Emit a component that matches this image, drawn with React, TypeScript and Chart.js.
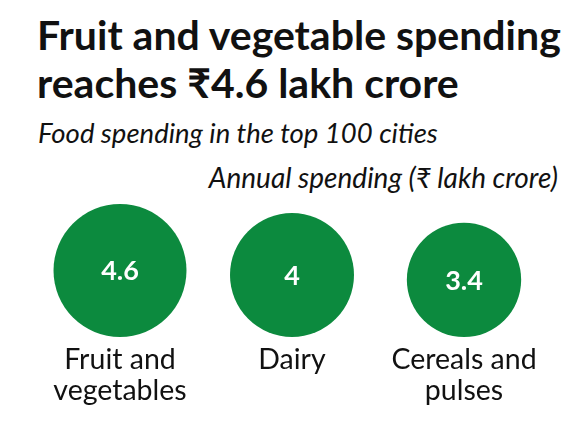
import React, { useEffect, useRef } from "react";
import { Chart, registerables } from "chart.js";

Chart.register(...registerables);

// Annual food spending in the top 100 cities, ₹ lakh crore
const categories = ["Fruit and vegetables", "Dairy", "Cereals and pulses"];
const categoryLines = [["Fruit and", "vegetables"], ["Dairy"], ["Cereals and", "pulses"]];
const values = [4.6, 4, 3.4];
const valueLabels = ["4.6", "4", "3.4"];

const GREEN = "#0c8a3e";
const INK = "#111111";
const FONT = 'Lato, "Noto Sans", "DejaVu Sans", sans-serif';

// Bubble area is proportional to spending; radius in px per sqrt(unit)
const RADIUS_PER_ROOT = 31;
const PLOT_TOP = 190;
const AXIS_HEIGHT = 88;
const CANVAS_W = 576;
const CANVAS_H = 425;
const PLOT_HEIGHT = CANVAS_H - AXIS_HEIGHT - PLOT_TOP;

const radiusOf = (v: number) => RADIUS_PER_ROOT * Math.sqrt(v);

// Writes each bubble's value in its centre
const valueLabelPlugin = {
  id: "valueLabels",
  afterDatasetsDraw(chart: any) {
    const meta = chart.getDatasetMeta(0);
    const ctx = chart.ctx;
    ctx.save();
    ctx.fillStyle = "#ffffff";
    ctx.font = `700 27px ${FONT}`;
    ctx.textAlign = "center";
    ctx.textBaseline = "middle";
    meta.data.forEach((el: any, i: number) => {
      ctx.fillText(valueLabels[i], el.x, el.y + 1);
    });
    ctx.restore();
  },
};

export default function App() {
  const canvasRef = useRef<HTMLCanvasElement | null>(null);

  useEffect(() => {
    if (!canvasRef.current) return;
    const chart = new Chart(canvasRef.current, {
      type: "bubble",
      data: {
        labels: categoryLines as any,
        datasets: [
          {
            label: "Annual spending (₹ lakh crore)",
            data: values.map((v, i) => ({ x: i, y: radiusOf(v), r: radiusOf(v) })),
            backgroundColor: GREEN,
            borderWidth: 0,
            hoverRadius: 0,
            clip: false as any,
          },
        ],
      },
      options: {
        responsive: false,
        animation: false,
        events: [],
        layout: {
          autoPadding: false,
          padding: { top: PLOT_TOP, left: 34, right: 26, bottom: 0 },
        },
        plugins: { legend: { display: false }, tooltip: { enabled: false } },
        scales: {
          x: {
            type: "category",
            offset: true,
            grid: { display: false },
            border: { display: false },
            afterFit: (scale: any) => {
              scale.height = AXIS_HEIGHT;
              scale.paddingLeft = 0;
              scale.paddingRight = 0;
            },
            ticks: {
              color: INK,
              padding: -1,
              maxRotation: 0,
              autoSkip: false,
              font: { family: FONT, size: 28.5, lineHeight: 1.09 },
            },
          },
          y: {
            display: false,
            min: 0,
            max: PLOT_HEIGHT,
          },
        },
      },
      plugins: [valueLabelPlugin],
    });
    return () => chart.destroy();
  }, []);

  return (
    <div
      style={{
        position: "fixed",
        left: 0,
        top: 0,
        width: CANVAS_W,
        height: CANVAS_H,
        background: "#ffffff",
        color: INK,
        fontFamily: FONT,
        overflow: "hidden",
      }}
    >
      <div
        style={{
          position: "absolute",
          left: 37,
          top: 11,
          fontSize: 41,
          fontWeight: 700,
          lineHeight: "48px",
          whiteSpace: "nowrap",
        }}
      >
        Fruit and vegetable spending
        <br />
        reaches ₹4.6 lakh crore
      </div>
      <div
        style={{
          position: "absolute",
          left: 38,
          top: 118,
          fontSize: 27.5,
          fontStyle: "italic",
          lineHeight: "30px",
          whiteSpace: "nowrap",
        }}
      >
        Food spending in the top 100 cities
      </div>
      <div
        style={{
          position: "absolute",
          right: CANVAS_W - 558,
          top: 162,
          fontSize: 28,
          fontStyle: "italic",
          lineHeight: "30px",
          whiteSpace: "nowrap",
        }}
      >
        Annual spending (₹ lakh crore)
      </div>
      <canvas
        ref={canvasRef}
        width={CANVAS_W}
        height={CANVAS_H}
        style={{ position: "absolute", left: 0, top: 0 }}
      />
    </div>
  );
}
